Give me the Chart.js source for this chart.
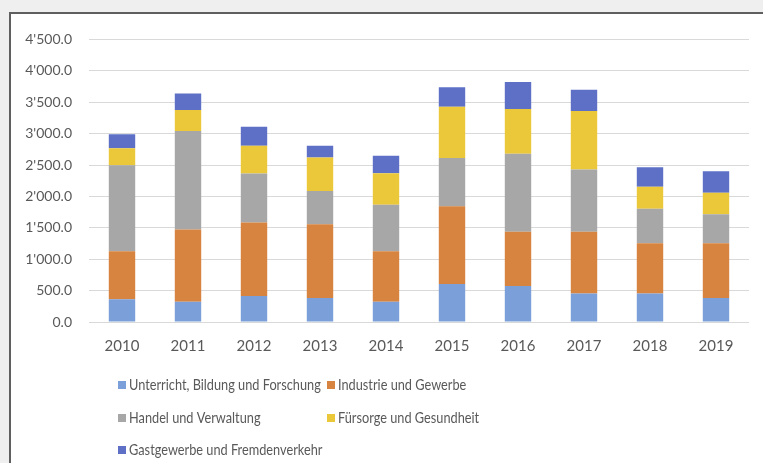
<!DOCTYPE html>
<html>
<head>
<meta charset="utf-8">
<script src="https://cdn.jsdelivr.net/npm/chart.js@4/dist/chart.umd.min.js"></script>
<style>
  html, body { margin: 0; padding: 0; background: #eeefee; overflow: hidden; }
  body { width: 763px; height: 463px; position: relative; }
  #panel {
    position: absolute; left: 9px; top: 12px; width: 800px; height: 500px;
    background: #fff; border: 2px solid #5f5f5f;
  }
  #wrap { position: absolute; left: 0; top: 0; width: 752px; height: 449px; }
</style>
</head>
<body>
<div id="panel"><div id="wrap"><canvas id="chart"></canvas></div></div>
<script>
const years = ['2010', '2011', '2012', '2013', '2014', '2015', '2016', '2017', '2018', '2019']

const seriesNames = [
  'Unterricht, Bildung und Forschung',
  'Industrie und Gewerbe',
  'Handel und Verwaltung',
  'Fürsorge und Gesundheit',
  'Gastgewerbe und Fremdenverkehr'
]

const unterricht = [363, 321, 416, 384, 321, 605, 573, 453, 453, 384]
const industrie  = [763, 1153, 1168, 1174, 805, 1237, 864, 984, 799, 868]
const handel     = [1369, 1569, 779, 526, 742, 768, 1242, 990, 553, 464]
const fuersorge  = [273, 331, 443, 537, 500, 816, 711, 931, 347, 342]
const gastgewerbe = [221, 263, 305, 185, 280, 311, 431, 342, 311, 342]

const colors = ['#7b9fd8', '#d6843f', '#a7a7a7', '#ebc83a', '#5d70c6']

const yMax = 4500
const yStep = 500

const textColor = '#595959'
const fontFamily = 'Lato, "Open Sans", sans-serif'

function fmt(v) {
  const s = Math.round(v).toString().replace(/\B(?=(\d{3})+(?!\d))/g, "'")
  return s + '.0'
}

// legend drawn in two columns like the original (narrow, office-like text)
const legendPlugin = {
  id: 'gridLegend',
  afterDraw(chart) {
    const ctx = chart.ctx
    const cols = [107, 316]
    const rows = [371, 404, 436]
    const squeeze = 0.85
    ctx.save()
    ctx.font = '15px ' + fontFamily
    ctx.textBaseline = 'middle'
    ctx.textAlign = 'left'
    chart.data.datasets.forEach((ds, i) => {
      const x = cols[i % 2]
      const y = rows[Math.floor(i / 2)]
      ctx.fillStyle = ds.backgroundColor
      ctx.fillRect(x, y - 4, 8, 8)
      ctx.fillStyle = textColor
      ctx.save()
      ctx.translate(x + 11, y)
      ctx.scale(squeeze, 1)
      ctx.fillText(ds.label, 0, 0)
      ctx.restore()
    })
    ctx.restore()
  }
}

const values = [unterricht, industrie, handel, fuersorge, gastgewerbe]

new Chart(document.getElementById('chart'), {
  type: 'bar',
  data: {
    labels: years,
    datasets: values.map((v, i) => ({
      label: seriesNames[i],
      data: v,
      backgroundColor: colors[i],
      borderWidth: 0,
      categoryPercentage: 1,
      barPercentage: 0.4
    }))
  },
  options: {
    responsive: true,
    maintainAspectRatio: false,
    animation: false,
    layout: { padding: { left: 0, top: 23, right: 14, bottom: 0 } },
    plugins: {
      legend: { display: false },
      tooltip: { enabled: false }
    },
    scales: {
      x: {
        stacked: true,
        grid: { display: false, drawTicks: false },
        border: { display: false },
        ticks: { color: textColor, font: { family: fontFamily, size: 15 }, padding: 15 },
        afterFit(scale) { scale.height = 141 }
      },
      y: {
        stacked: true,
        min: 0,
        max: yMax,
        grid: { color: '#d9d9d9', drawTicks: false },
        border: { display: false },
        ticks: {
          stepSize: yStep,
          color: textColor,
          font: { family: fontFamily, size: 14 },
          padding: 17,
          callback: v => fmt(v)
        },
        afterFit(scale) { scale.width = 78 }
      }
    }
  },
  plugins: [legendPlugin]
})
</script>
</body>
</html>
